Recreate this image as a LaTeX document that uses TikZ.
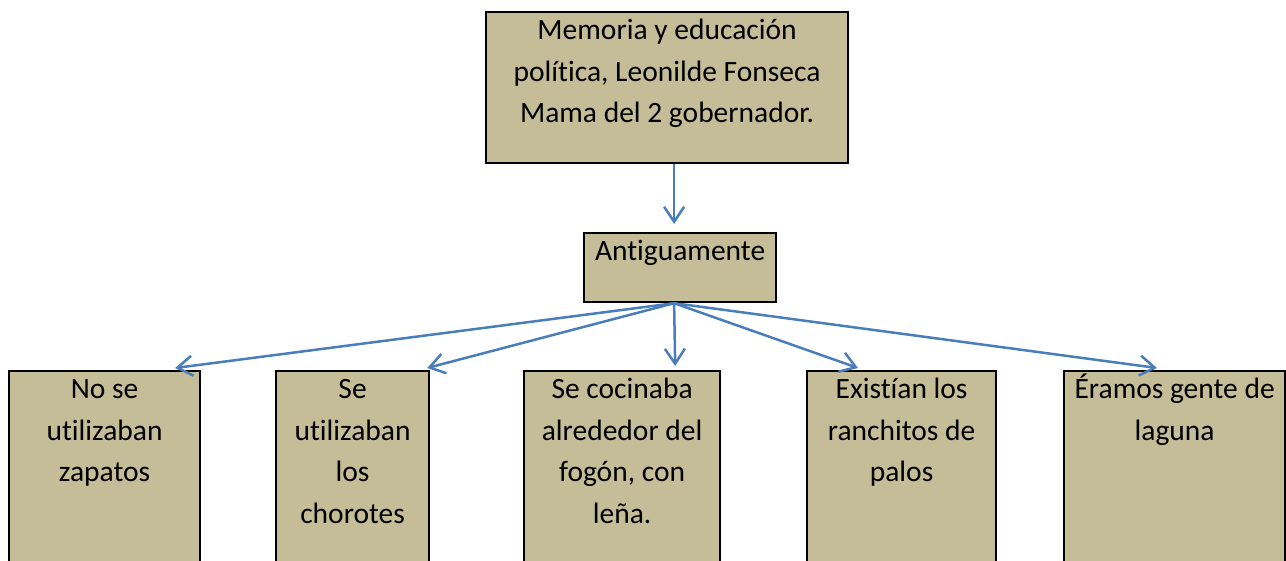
\documentclass[tikz,border=0pt]{standalone}
\usepackage{fontspec}
\setmainfont{Carlito}[Ligatures=NoCommon]
\usetikzlibrary{arrows.meta}
\definecolor{boxfill}{HTML}{C4BD97}
\definecolor{arrblue}{HTML}{4A7EBB}
\tikzset{
  box/.style={draw=black, line width=2.2pt, fill=boxfill, rectangle, inner sep=0pt, anchor=north west},
  txt/.style={anchor=north, inner sep=0pt, align=center, font=\fontsize{29.5}{41.5}\selectfont},
  arr/.style={draw=arrblue, line width=2.5pt, -{Straight Barb[length=15pt,width=20pt,line width=2.5pt]}}
}
\newcommand{\fs}{\rule{0pt}{28.5pt}}
\begin{document}
\begin{tikzpicture}[x=1pt,y=-1pt]
\useasboundingbox (0,0) rectangle (1286,561);
\clip (0,0) rectangle (1286,561);
\node[box, minimum width=362pt, minimum height=151pt] (top) at (485,11) {};
\node[box, minimum width=192pt, minimum height=69pt] (ant) at (583,232) {};
\node[box, minimum width=191pt, minimum height=220pt] (b1) at (8,370) {};
\node[box, minimum width=153pt, minimum height=220pt] (b2) at (275,370) {};
\node[box, minimum width=196pt, minimum height=220pt] (b3) at (523,370) {};
\node[box, minimum width=189pt, minimum height=220pt] (b4) at (806,370) {};
\node[box, minimum width=221pt, minimum height=220pt] (b5) at (1063,370) {};

\node[txt] (ttop) at (top.north) {\fs Memoria y educación\\política, Leonilde Fonseca\\Mama del 2 gobernador.};
\node[txt] (tant) at (ant.north) {\fs Antiguamente};
\node[txt] (tb1) at (b1.north) {\fs No se\\utilizaban\\zapatos};
\node[txt] (tb2) at (b2.north) {\fs Se\\utilizaban\\los\\chorotes};
\node[txt] (tb3) at (b3.north) {\fs Se cocinaba\\alrededor del\\fogón, con\\leña.};
\node[txt] (tb4) at (b4.north) {\fs Existían los\\ranchitos de\\palos};
\node[txt] (tb5) at (b5.north) {\fs Éramos gente de\\laguna};

\draw[arr] ([xshift=7pt]top.south) -- ([xshift=-6pt,yshift=8pt]ant.north);
\draw[arr] ([xshift=-6pt]ant.south) -- ([xshift=-26pt,yshift=2pt]b1.north east);
\draw[arr] ([xshift=-6pt]ant.south) -- ([xshift=-3pt,yshift=2pt]b2.north east);
\draw[arr] ([xshift=-6pt]ant.south) -- ([xshift=-46pt,yshift=4pt]b3.north east);
\draw[arr] ([xshift=-6pt]ant.south) -- ([xshift=52pt,yshift=2pt]b4.north west);
\draw[arr] ([xshift=-6pt]ant.south) -- ([xshift=94pt,yshift=2pt]b5.north west);
\end{tikzpicture}
\end{document}
